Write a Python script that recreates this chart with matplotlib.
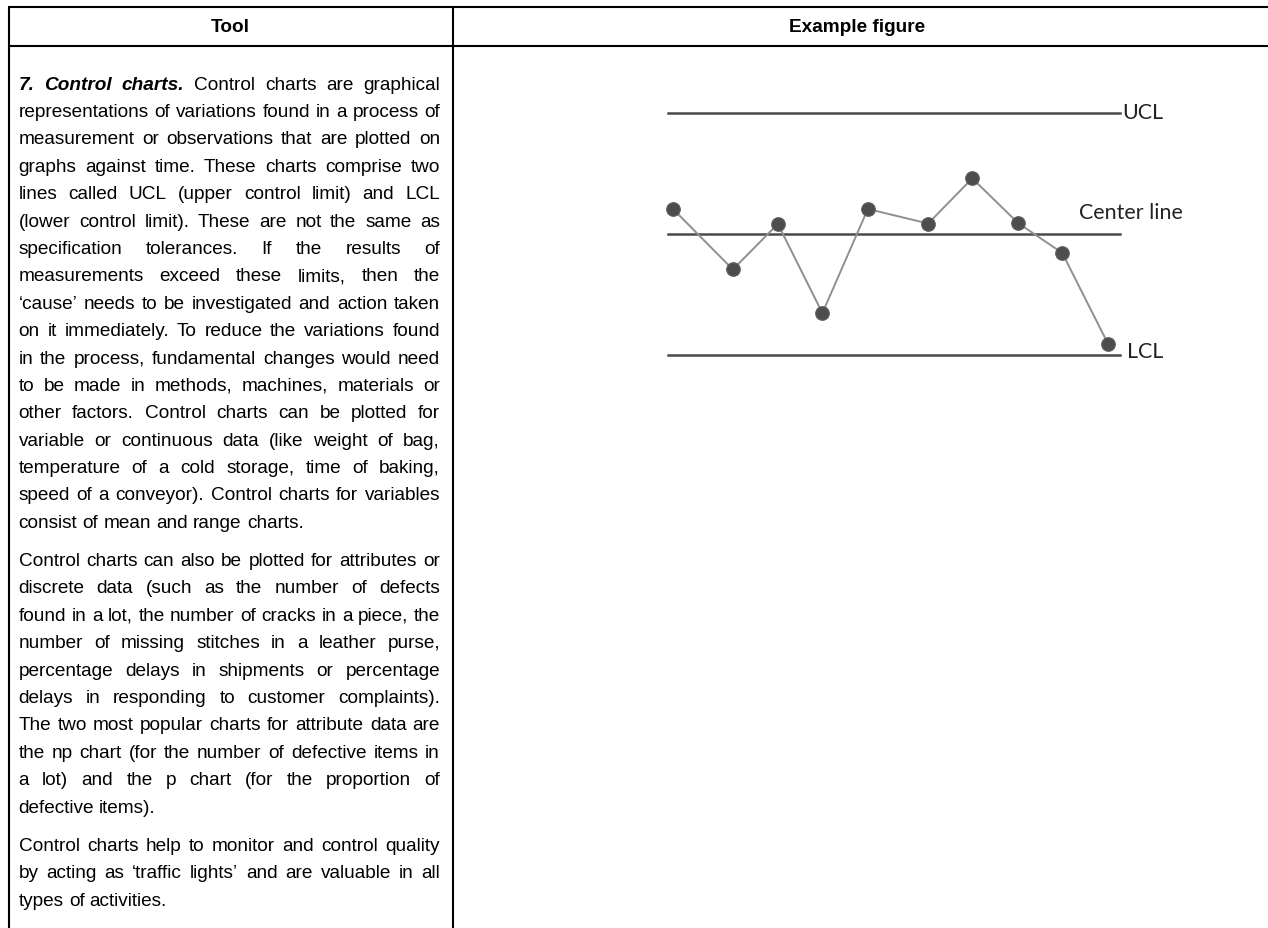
import numpy as np
import matplotlib
matplotlib.use("Agg")
import matplotlib.pyplot as plt

# ---- chart data (sigma units, time in sample units)
tiempo = [0, 1.33, 2.33, 3.32, 4.33, 5.67, 6.65, 7.67, 8.65, 9.67]
valores = [0.62, -0.88, 0.25, -1.96, 0.62, 0.26, 1.38, 0.27, -0.47, -2.73]
ucl, cl, lcl = 3.0, 0.0, -3.0
etiquetas = ["UCL", "Center line", "LCL"]

# ---- table text
cabeceras = ["Tool", "Example figure"]
lead = "7. Control charts."
parrafos = [
    ["7. Control charts. Control charts are graphical",
     "representations of variations found in a process of",
     "measurement or observations that are plotted on",
     "graphs against time. These charts comprise two",
     "lines called UCL (upper control limit) and LCL",
     "(lower control limit). These are not the same as",
     "specification tolerances. If the results of",
     "measurements exceed these limits, then the",
     "\u2018cause\u2019 needs to be investigated and action taken",
     "on it immediately. To reduce the variations found",
     "in the process, fundamental changes would need",
     "to be made in methods, machines, materials or",
     "other factors. Control charts can be plotted for",
     "variable or continuous data (like weight of bag,",
     "temperature of a cold storage, time of baking,",
     "speed of a conveyor). Control charts for variables",
     "consist of mean and range charts."],
    ["Control charts can also be plotted for attributes or",
     "discrete data (such as the number of defects",
     "found in a lot, the number of cracks in a piece, the",
     "number of missing stitches in a leather purse,",
     "percentage delays in shipments or percentage",
     "delays in responding to customer complaints).",
     "The two most popular charts for attribute data are",
     "the np chart (for the number of defective items in",
     "a lot) and the p chart (for the proportion of",
     "defective items)."],
    ["Control charts help to monitor and control quality",
     "by acting as \u2018traffic lights\u2019 and are valuable in all",
     "types of activities."],
]
inicio_parrafo = [82.5, 559, 844]
interlinea = 27.4

W, H = 1268, 929
fig = plt.figure(figsize=(W / 100, H / 100), dpi=100)
ax = fig.add_axes([0, 0, 1, 1])
ax.set_xlim(0, W)
ax.set_ylim(H, 0)
ax.axis("off")
renderer = fig.canvas.get_renderer()

# table rules
lw = 1.5
ax.plot([8, W], [7.5, 7.5], color="black", lw=lw, solid_capstyle="butt")
ax.plot([8, W], [46.5, 46.5], color="black", lw=lw, solid_capstyle="butt")
ax.plot([9, 9], [7, H], color="black", lw=lw, solid_capstyle="butt")
ax.plot([453, 453], [7, H], color="black", lw=lw, solid_capstyle="butt")


def ancho(s, **kw):
    t = ax.text(0, 0, s, **kw)
    w = t.get_window_extent(renderer).width
    t.remove()
    return w


def avance(s, **kw):
    # advance width of a word, so the gaps between words come out even
    return ancho(s + "H", **kw) - ancho("H", **kw)


fuente = "Liberation Sans"
size = 13.7

ax.text(230.5, 27, cabeceras[0], family=fuente, fontsize=size,
        weight="bold", ha="center", va="center")
ax.text(857, 27, cabeceras[1], family=fuente, fontsize=size,
        weight="bold", ha="center", va="center")

x0, x1 = 18.5, 440
espacio = avance(" ", family=fuente, fontsize=size)
n_lead = len(lead.split())

for p, lineas in enumerate(parrafos):
    for i, linea in enumerate(lineas):
        y = inicio_parrafo[p] + i * interlinea + 7
        palabras = linea.split()
        estilos = []
        for k, w in enumerate(palabras):
            estilo = dict(family=fuente, fontsize=size)
            if p == 0 and i == 0 and k < n_lead:
                estilo.update(weight="bold", style="italic")
            estilos.append(estilo)
        anchos = [avance(w, **e) for w, e in zip(palabras, estilos)]
        ultima = i == len(lineas) - 1
        if ultima or len(palabras) == 1:
            hueco = espacio
        else:
            hueco = (x1 - x0 - sum(anchos)) / (len(palabras) - 1)
        x = x0
        for w, e, a in zip(palabras, estilos, anchos):
            ax.text(x, y, w, va="baseline", ha="left", **e)
            x += a + hueco

# ---- control chart
px_sigma = 40.33
cx0, cx1 = 668, 1120
cy = 235
top = cy - 3.5 * px_sigma
bot = cy + 3.5 * px_sigma
ch = fig.add_axes([cx0 / W, 1 - bot / H, (cx1 - cx0) / W, (bot - top) / H])
ch.set_xlim(-0.111, 9.933)
ch.set_ylim(-3.5, 3.5)
ch.axis("off")

for nivel in (ucl, cl, lcl):
    ch.axhline(nivel, color="#4a4a4a", lw=1.8, clip_on=False)
ch.plot(tiempo, valores, color="#8f8f8f", lw=1.4, zorder=3, clip_on=False)
ch.plot(tiempo, valores, "o", ms=9.8, color="#4d4d4d", mec="#5e5e5e", mew=0.8,
        zorder=4, clip_on=False)

fl = "Lato"
tam = 12 * 103 / ancho("Center line", family=fl, fontsize=12)
ch.annotate(etiquetas[0], xy=(1, ucl), xycoords=("axes fraction", "data"),
            xytext=(1.5, 0.5), textcoords="offset points", family=fl,
            fontsize=tam, color="#222222", ha="left", va="center")
ch.annotate(etiquetas[1], xy=(1, cl), xycoords=("axes fraction", "data"),
            xytext=(-29.5, 16), textcoords="offset points", family=fl,
            fontsize=tam, color="#222222", ha="left", va="center")
ch.annotate(etiquetas[2], xy=(1, lcl), xycoords=("axes fraction", "data"),
            xytext=(5, 2.7), textcoords="offset points", family=fl,
            fontsize=tam, color="#222222", ha="left", va="center")

fig.savefig("out.png", dpi=100)
